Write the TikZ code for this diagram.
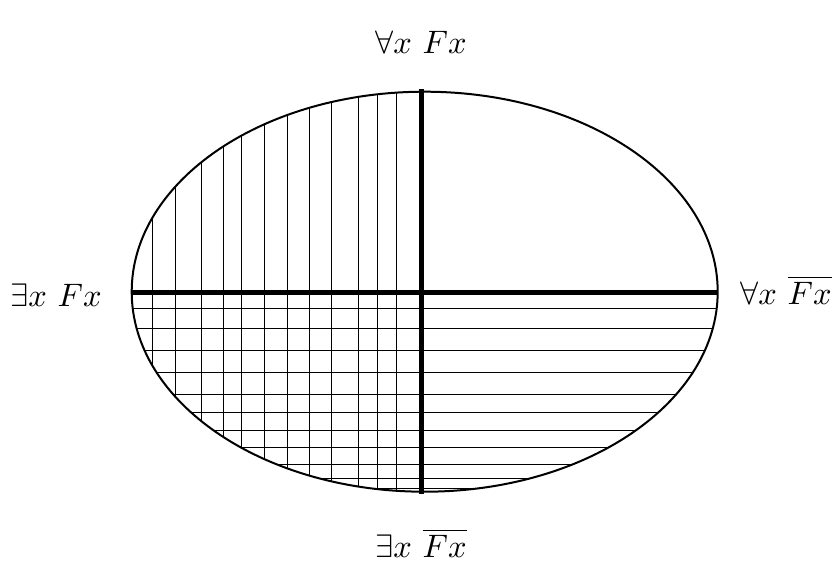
\documentclass[tikz,border=0pt]{standalone}
\usetikzlibrary{positioning}

\begin{document}
\begin{tikzpicture}[
  x=1pt, y=-1pt,
  rim/.style={draw=black, line width=2pt},
  axis/.style={draw=black, line width=5pt},
  hatch/.style={draw=black, line width=1pt},
  lbl/.style={inner sep=0pt, scale=3.25},
]
\useasboundingbox (0,0) rectangle (837,576);

%% ---- Hatching inside the ellipse ----
\begin{scope}
  \clip (424.7,291.7) ellipse [x radius=293, y radius=200];
  %% vertical lines: left half
  \foreach \xx in {152.7,175,201,223,241,264,287,309,331,358,377,396}
    \draw[hatch] (\xx,80) -- (\xx,500);
  %% horizontal lines: lower half
  \foreach \yy in {308,328,350,372,394,412,430,447,464,478,488}
    \draw[hatch] (120,\yy) -- (730,\yy);
\end{scope}

%% ---- Ellipse and the two thick axes ----
\draw[rim] (424.7,291.7) ellipse [x radius=293, y radius=200];
\coordinate (top) at (421,89);
\coordinate (bot) at (421,494);
\coordinate (lft) at (131,292);
\coordinate (rgt) at (718,292);
\draw[axis] (top) -- (bot);
\draw[axis] (lft) -- (rgt);

%% ---- Labels ----
\node[lbl] (allF)   at (421,42)  {$\forall x\ Fx$};
\node[lbl] (exF)    at (56,295)  {$\exists x\ Fx$};
\node[lbl] (allnF)  at (786,290) {$\forall x\ \overline{Fx}$};
\node[lbl] (exnF)   at (421,543) {$\exists x\ \overline{Fx}$};

\end{tikzpicture}
\end{document}
